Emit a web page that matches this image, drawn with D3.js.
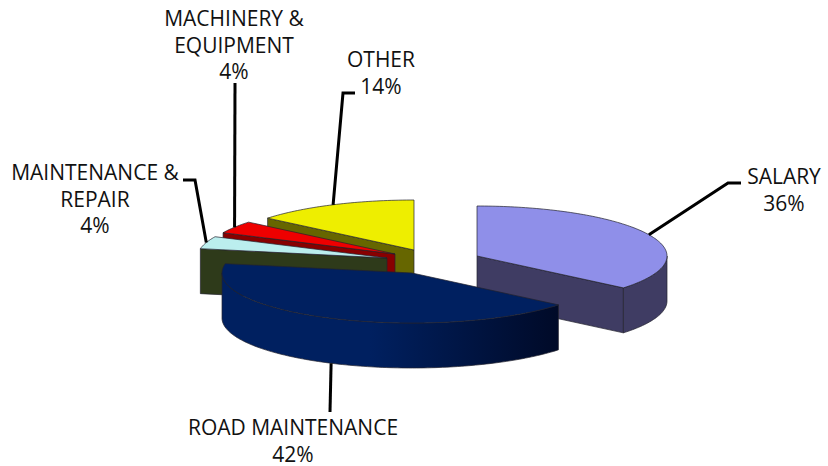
<!DOCTYPE html>
<html>
<head>
<meta charset="utf-8">
<script src="https://cdnjs.cloudflare.com/ajax/libs/d3/7.8.5/d3.min.js"></script>
<style>
    html, body { margin: 0; padding: 0; background: #fff; }
    svg { display: block; }
    text { font-family: "Open Sans", sans-serif; font-size: 21px; fill: #111; }
</style>
</head>
<body>
<svg id="chart" width="828" height="466"></svg>
<script>
// chart data
var categories = ['SALARY', 'ROAD MAINTENANCE', 'MAINTENANCE & REPAIR', 'MACHINERY & EQUIPMENT', 'OTHER'];
var shares = [36, 42, 4, 4, 14];

// look of each slice, same order as categories
var topColors = ['#8f8fe9', '#002060', '#bbeeee', '#ee0000', '#eeee00'];
var wallColors = ['#3f3c63', '#002060', '#2e3a1a', '#880000', '#666600'];
var centers = [[477, 256], [412, 273], [387, 258], [395, 254], [414, 250]];
// label: centre x, first baseline, line breaks, leader elbow + end
var labelX = [784, 293, 95, 234, 381];
var labelY = [184, 435, 180, 26, 67];
var labelLines = [['SALARY'], ['ROAD MAINTENANCE'], ['MAINTENANCE &', 'REPAIR'], ['MACHINERY &', 'EQUIPMENT'], ['OTHER']];
var leaderEnds = [[[728, 183], [741, 183]], [[330, 412]], [[195, 180], [183, 180]], [[235, 83]], [[343, 93], [355, 93]]];

var rx = 190, ry = 50, depth = 45;
var lineHeight = 26.5;

var svg = d3.select('#chart');
var line = d3.line();

var slices = d3.pie().sort(null).value(function(d) { return d; })(shares);

// screen position of a rim point, angle clockwise from 12 o'clock
function rim(c, a, dy) {
    return [c[0] + rx * Math.sin(a), c[1] - ry * Math.cos(a) + (dy || 0)];
}

function arcPoints(c, a0, a1, dy) {
    var n = Math.max(2, Math.ceil((a1 - a0) / 0.02));
    return d3.range(n + 1).map(function(i) {
        return rim(c, a0 + (a1 - a0) * i / n, dy);
    });
}

var grad = svg.append('defs').append('linearGradient')
    .attr('id', 'roadWall')
    .attr('gradientUnits', 'userSpaceOnUse')
    .attr('x1', 370).attr('x2', 557).attr('y1', 0).attr('y2', 0);
grad.append('stop').attr('offset', 0).attr('stop-color', '#002060');
grad.append('stop').attr('offset', 1).attr('stop-color', '#000a28');

function drawSlice(i) {
    var d = slices[i], c = centers[i];
    var g = svg.append('g')
        .attr('stroke', '#22222e')
        .attr('stroke-width', 0.7)
        .attr('stroke-linejoin', 'round');
    var wall = i === 1 ? 'url(#roadWall)' : wallColors[i];

    // side faces that look to the viewer
    [d.startAngle, d.endAngle].forEach(function(a, k) {
        var visible = k === 0 ? Math.sin(a) < -1e-6 : Math.sin(a) > 1e-6;
        if (!visible) return;
        g.append('path')
            .attr('fill', wallColors[i])
            .attr('d', line([c, rim(c, a), rim(c, a, depth), [c[0], c[1] + depth]]) + 'Z');
    });

    // outer wall, front half of the ellipse only
    var from = Math.max(d.startAngle, Math.PI / 2);
    var to = Math.min(d.endAngle, Math.PI * 1.5);
    if (from < to) {
        var top = arcPoints(c, from, to, 0);
        var bottom = arcPoints(c, from, to, depth).reverse();
        g.append('path')
            .attr('fill', wall)
            .attr('d', line(top.concat(bottom)) + 'Z');
    }

    // top face
    g.append('path')
        .attr('fill', topColors[i])
        .attr('d', line([c].concat(arcPoints(c, d.startAngle, d.endAngle, 0))) + 'Z');
}

// back to front
[4, 3, 2, 0, 1].forEach(drawSlice);

// leaders start on the rim at the middle of the slice
slices.forEach(function(d, i) {
    var mid = (d.startAngle + d.endAngle) / 2;
    var front = Math.cos(mid) < 0;
    var start = rim(centers[i], mid, front ? depth : 0);
    svg.append('path')
        .attr('fill', 'none')
        .attr('stroke', '#000')
        .attr('stroke-width', 3)
        .attr('d', line([start].concat(leaderEnds[i])));
});

// labels
categories.forEach(function(name, i) {
    var t = svg.append('text')
        .attr('text-anchor', 'middle')
        .attr('aria-label', name);
    labelLines[i].concat([shares[i] + '%']).forEach(function(s, k) {
        t.append('tspan')
            .attr('x', labelX[i])
            .attr('y', labelY[i] + k * lineHeight)
            .text(s);
    });
});
</script>
</body>
</html>
